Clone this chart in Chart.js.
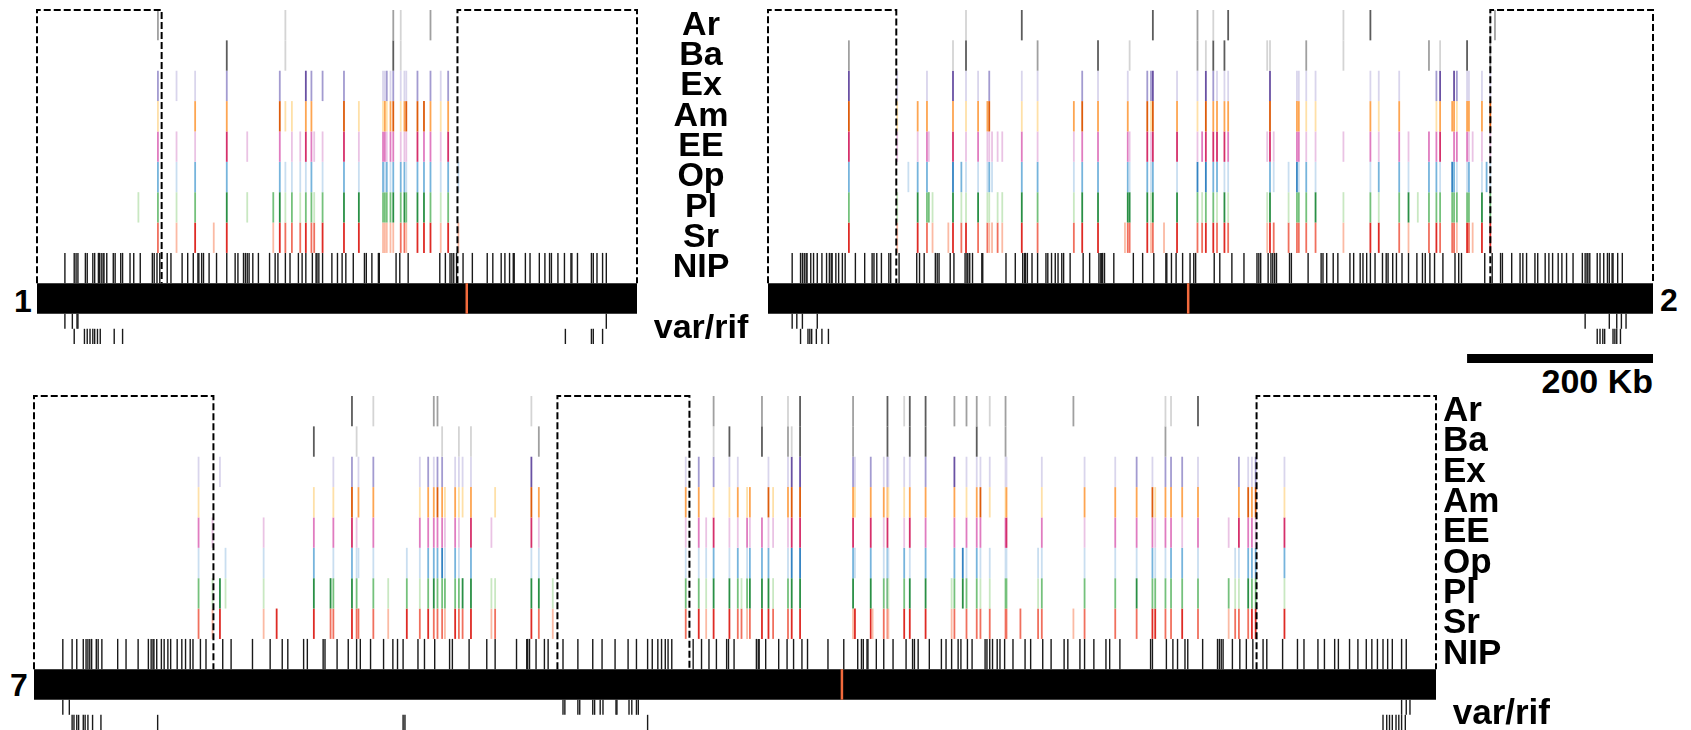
<!DOCTYPE html>
<html>
<head>
<meta charset="utf-8">
<script src="https://cdn.jsdelivr.net/npm/chart.js@4.4.1/dist/chart.umd.min.js"></script>
<style>
  html, body { margin: 0; padding: 0; background: #fff; }
  #page { position: relative; width: 1691px; height: 730px; overflow: hidden;
          font-family: "Liberation Sans", Arial, sans-serif; font-weight: bold; color: #000; }
  #page canvas { position: absolute; }
  .lbl { position: absolute; white-space: nowrap; }
</style>
</head>
<body>
<div id="page">
  <div class="lbl" style="left:14px; top:285px; font-size:32px; line-height:32px;">1</div>
  <div class="lbl" style="left:1660px; top:284px; font-size:32px; line-height:32px;">2</div>
  <div class="lbl" style="left:10px; top:669px; font-size:32px; line-height:32px;">7</div>
  <div class="lbl" style="right:38px; top:364px; font-size:34px; line-height:34px;">200 Kb</div>
</div>
<script>
// ---- data (positions in kb) ----
const rowLabels = ['Ar', 'Ba', 'Ex', 'Am', 'EE', 'Op', 'Pl', 'Sr', 'NIP', 'var/rif'];

// chromosome 1
const chr1Length = 645;
const chr1Centromere = 462;
const chr1Boxes = [[0, 134], [452, 645]];
const chr1Genes = [109,130,150,170,190,204,226,254,261,267,274,283,289,295,298,307,330,346,372,374,376,380,383,391,395,397,409,416,423,434,442,453];
// one digit per gene, rows Ar..Sr, 0 = absent, 1..3 = light..dark
const chr1Levels = [
  '0200000001 0000000000 0021000020 00',
  '0000030001 0000000000 0031000000 00',
  '0211020020 0032022011 2121112021 20',
  '0102020031 1022003112 1231233321 20',
  '0211031020 1132113122 1221113221 30',
  '0212020021 1112012121 2122212221 21',
  '1212031231 2122123322 2232323321 20',
  '0213130132 2232233311 1112213331 31'
];
const chr1Nip = [30,40,42,44,52,54,60,62,66,67,69,71,72,75,82,84,90,92,100,104,111,124,126,129,132,140,144,156,162,168,173,174,177,179,185,193,204,213,216,222,224,226,228,232,238,250,256,259,267,272,281,285,289,296,300,301,303,307,317,323,328,332,340,352,354,360,367,368,386,390,399,433,439,444,446,448,451,458,468,484,490,499,503,508,512,513,525,530,540,546,551,553,560,567,574,575,581,596,598,602,608,612];
const chr1VarUp = [30,38,43,44,612];
const chr1VarLow = [40,51,54,57,60,62,65,68,83,92,568,596,598,608];

// chromosome 2
const chr2Length = 952;
const chr2Centromere = 452;
const chr2Boxes = [[0, 138], [777, 952]];
const chr2Genes = [87,139,151,161,171,173,177,194,199,208,213,226,236,238,241,247,252,273,290,329,338,355,384,387,389,408,412,414,426,440,462,467,471,479,483,491,495,537,540,544,560,569,571,579,589,619,648,657,679,689,699,711,719,723,736,738,741,752,754,758,768,773,777,782];
const chr2Levels = [
  '0000000000 1000000300 0000000300 2001003000 0000013000 0000000000 0012',
  '2000000010 3000000020 0300100000 2013030110 0002010000 0201000300 0020',
  '3100100030 1102000110 2101022301 1032111030 0111101110 0023032110 1010',
  '3102200020 1223000112 3202031302 1032222030 0221102120 0012221220 2030',
  '3101210030 1211111211 2202131303 1233332131 0221112121 0223022211 1010',
  '2012200032 1112100221 2202121201 3032211021 1312101221 0221321120 1210',
  '2103221031 1311011321 3303331303 2122131130 1222312123 1222222220 3020',
  '3103201132 3221121322 3312231213 2233232132 2222213321 0232221321 3030'
];
const chr2Nip = [26,35,37,39,41,42,46,49,53,58,63,66,68,69,73,76,80,83,94,104,112,114,117,122,130,132,141,160,163,168,180,182,184,196,200,212,214,215,217,220,230,231,256,266,274,276,277,279,284,290,299,301,305,309,312,316,318,325,339,346,356,358,359,360,362,372,393,403,415,428,429,434,439,446,454,458,460,480,486,499,512,526,528,530,538,541,543,545,547,561,563,581,595,597,601,608,613,626,630,637,640,644,648,653,661,665,667,672,676,682,689,698,704,707,712,717,726,739,743,746,771,779,788,790,800,809,812,816,825,828,836,840,844,850,854,859,866,876,879,881,882,884,892,895,899,903,905,908,909,914,919];
const chr2VarUp = [26,31,37,53,879,905,913,918,923];
const chr2VarLow = [35,43,45,47,52,58,65,892,895,898,900,909,911,913,917];
const scaleBarKb = [752, 952];

// chromosome 7
const chr7Length = 1508;
const chr7Centromere = 869;
const chr7Boxes = [[0, 193], [563, 705], [1315, 1508]];
const chr7Genes = [177,192,200,206,247,261,301,319,322,342,347,349,365,381,401,415,424,430,434,439,442,453,457,461,470,492,496,535,543,558,701,715,723,731,748,757,761,767,770,783,790,795,811,815,824,881,883,900,902,914,918,919,936,942,959,987,990,999,1003,1014,1018,1028,1045,1046,1061,1080,1084,1118,1130,1163,1186,1203,1206,1217,1223,1235,1252,1285,1292,1296,1306,1310,1314,1345];
const chr7Levels = [
  '0000000003 0010000220 0000000100 0002000002 0010320000 3013302022 0120000200 0001103000 0000',
  '0000003000 1000000001 0010100020 0001300003 0021320000 3003300003 0020000000 0002000000 0000',
  '1010000012 0120012122 0111100300 1202110000 1013321201 2111203011 1111001011 2102221002 1121',
  '1000001013 0220012232 1211201320 2201120120 3123321202 2112202012 3112001022 2312222002 3231',
  '2100102023 1020022222 1210310310 1213110212 1113330301 3013202022 2023002012 2212212103 2213',
  '1001102012 1110112223 1210200110 1112120122 2013321201 2121202312 1111011011 1211221011 2222',
  '2131103323 2021212322 2223311331 2213321233 3123330302 3123312322 1122012022 3222222211 3221',
  '2130133223 2221323222 1322312321 2313322123 3223313312 2133312022 2222222122 2332232122 2333'
];
const chr7Nip = [31,41,46,53,56,58,60,62,67,69,73,90,99,112,123,126,128,129,132,137,140,144,147,154,159,163,168,171,179,185,203,212,235,254,267,273,290,294,311,313,326,338,347,351,362,376,386,391,397,413,420,431,447,450,468,487,496,519,530,531,533,540,549,553,569,585,601,611,625,639,648,660,665,671,675,679,682,686,709,718,726,734,745,747,753,777,779,780,787,801,810,817,826,832,854,871,886,890,892,896,897,906,914,924,938,945,947,951,963,976,981,987,994,997,1004,1009,1023,1025,1028,1031,1036,1039,1044,1053,1066,1072,1085,1094,1108,1112,1125,1130,1140,1153,1157,1168,1201,1203,1218,1225,1230,1238,1241,1257,1273,1275,1277,1279,1289,1297,1304,1311,1322,1326,1343,1359,1366,1381,1388,1399,1403,1415,1424,1433,1439,1445,1451,1456,1461,1471,1476];
const chr7VarUp = [31,38,569,571,585,587,601,603,609,612,626,627,640,643,648,650,1471,1476,1480];
const chr7VarLow = [41,43,46,48,53,55,58,63,72,133,397,399,660,1451,1455,1458,1461,1465,1468,1471,1475];

// ---- styles ----
const FONT = '"Liberation Sans", Arial, sans-serif';
const ROW_PX = 334 / 11;
const PAD = 45;
const labelRows = [0.5, 1.5, 2.5, 3.5, 4.5, 5.5, 6.5, 7.5, 8.5, 10.5];
const rowShades = [
  ['', '#d4d4d4', '#a0a0a0', '#5c5c5c'],
  ['', '#d4d4d4', '#a0a0a0', '#5c5c5c'],
  ['', '#d9d5ec', '#a39bd0', '#6a51a3'],
  ['', '#fee0a8', '#fda552', '#dd5c0c'],
  ['', '#eac3e4', '#e07cc0', '#d5306b'],
  ['', '#c9def0', '#76b4dc', '#3383c2'],
  ['', '#c9e8c2', '#75c17c', '#2a8f45'],
  ['', '#fbbaa4', '#f0705e', '#de2b25']
];

function levelList(s) {
    return s.replace(/ /g, '').split('').map(Number);
}

function tickPoints(positions, y, levels) {
    const pts = [];
    positions.forEach((x, i) => {
        const l = levels ? levels[i] : 3;
        if (l > 0) pts.push({ x: x, y: y, l: l });
    });
    return pts;
}

function widestLabel(size) {
    const ctx = document.createElement('canvas').getContext('2d');
    ctx.font = 'bold ' + size + 'px ' + FONT;
    return Math.max(...rowLabels.map(t => ctx.measureText(t).width));
}

function CreateChromosome(p)
{
    const plotH = p.rows * ROW_PX;
    const w = PAD + p.plotW + (p.axisW || PAD);
    const h = Math.ceil(PAD + plotH + PAD);
    const canvas = document.createElement('canvas');
    canvas.width = w;
    canvas.height = h;
    canvas.style.left = (p.left - PAD) + 'px';
    canvas.style.top = (p.top - PAD) + 'px';
    canvas.style.width = w + 'px';
    canvas.style.height = h + 'px';
    document.getElementById('page').appendChild(canvas);

    const half = ROW_PX / 2;
    const datasets = [];

    // dashed subtelomeric boxes (drawn on top)
    p.boxes.forEach(b => datasets.push({
        data: [{ x: b[0], y: 9 }, { x: b[0], y: 0 }, { x: b[1], y: 0 }, { x: b[1], y: 9 }],
        showLine: true, borderColor: '#000', borderWidth: 2, borderDash: [7, 3],
        pointRadius: 0, clip: false
    }));

    // centromere
    datasets.push({
        data: [{ x: p.cen, y: 9.5 }],
        pointStyle: 'line', pointRotation: 90, pointRadius: half,
        pointBorderWidth: 2.5, pointBorderColor: '#f26a3c', clip: false
    });

    // expression rows
    for (let r = 0; r < 8; r++) {
        const shades = rowShades[r];
        datasets.push({
            data: tickPoints(p.genes, r + 0.5, levelList(p.levels[r])),
            pointStyle: 'line', pointRotation: 90, pointRadius: half,
            pointBorderWidth: 1.8,
            pointBorderColor: c => shades[c.raw ? c.raw.l : 3],
            clip: false
        });
    }

    // NIP row
    datasets.push({
        data: tickPoints(p.nip, 8.5),
        pointStyle: 'line', pointRotation: 90, pointRadius: half,
        pointBorderWidth: 1.4, pointBorderColor: '#1a1a1a', clip: false
    });

    // var/rif rows
    [[p.varUp, 10.25], [p.varLow, 10.75]].forEach(v => datasets.push({
        data: tickPoints(v[0], v[1]),
        pointStyle: 'line', pointRotation: 90, pointRadius: half / 2,
        pointBorderWidth: 1.4, pointBorderColor: '#1a1a1a', clip: false
    }));

    if (p.scaleBar) {
        datasets.push({
            data: [{ x: p.scaleBar[0], y: 11.48 }, { x: p.scaleBar[1], y: 11.48 }],
            showLine: true, borderColor: '#000', borderWidth: 9, pointRadius: 0, clip: false
        });
    }

    // chromosome bar (drawn first)
    datasets.push({
        data: [{ x: 0, y: 9.5 }, { x: p.length, y: 9.5 }],
        showLine: true, borderColor: '#000', borderWidth: ROW_PX,
        borderCapStyle: 'butt', pointRadius: 0, clip: false
    });

    return new Chart(canvas,
    {
        type: 'scatter',
        data: { datasets: datasets },
        options:
        {
            responsive: false,
            animation: false,
            events: [],
            layout:
            {
                autoPadding: false,
                padding: { left: PAD, top: PAD, right: p.axisW ? 0 : PAD, bottom: h - PAD - plotH }
            },
            plugins: { legend: { display: false }, tooltip: { enabled: false } },
            scales:
            {
                x: { type: 'linear', min: 0, max: p.length, display: false },
                y:
                {
                    type: 'linear', min: 0, max: p.rows, reverse: true,
                    position: 'right',
                    display: !!p.axisW,
                    grid: { display: false, drawTicks: false },
                    border: { display: false },
                    afterBuildTicks: s => { s.ticks = labelRows.map(v => ({ value: v })); },
                    afterFit: s => { s.width = p.axisW || 0; },
                    ticks:
                    {
                        autoSkip: false,
                        crossAlign: p.align || 'near',
                        padding: p.tickPad || 0,
                        color: '#000',
                        font: { family: FONT, weight: 'bold', size: p.fontSize || 34 },
                        callback: (v, i) => (p.labelPrefix && i === 9 ? ' ' : '') + rowLabels[i]
                    }
                }
            }
        }
    });
}

CreateChromosome({
    left: 37, top: 10, plotW: 600, rows: 11, axisW: 131, align: 'center',
    fontSize: 34, tickPad: 64 - widestLabel(34) / 2,
    length: chr1Length, cen: chr1Centromere, boxes: chr1Boxes, genes: chr1Genes, levels: chr1Levels,
    nip: chr1Nip, varUp: chr1VarUp, varLow: chr1VarLow
});

CreateChromosome({
    left: 768, top: 10, plotW: 885, rows: 12, axisW: 0,
    length: chr2Length, cen: chr2Centromere, boxes: chr2Boxes, genes: chr2Genes, levels: chr2Levels,
    nip: chr2Nip, varUp: chr2VarUp, varLow: chr2VarLow, scaleBar: scaleBarKb
});

CreateChromosome({
    left: 34, top: 396, plotW: 1402, rows: 11, axisW: 255, align: 'near', tickPad: 7,
    fontSize: 35, labelPrefix: true,
    length: chr7Length, cen: chr7Centromere, boxes: chr7Boxes, genes: chr7Genes, levels: chr7Levels,
    nip: chr7Nip, varUp: chr7VarUp, varLow: chr7VarLow
});
</script>
</body>
</html>
